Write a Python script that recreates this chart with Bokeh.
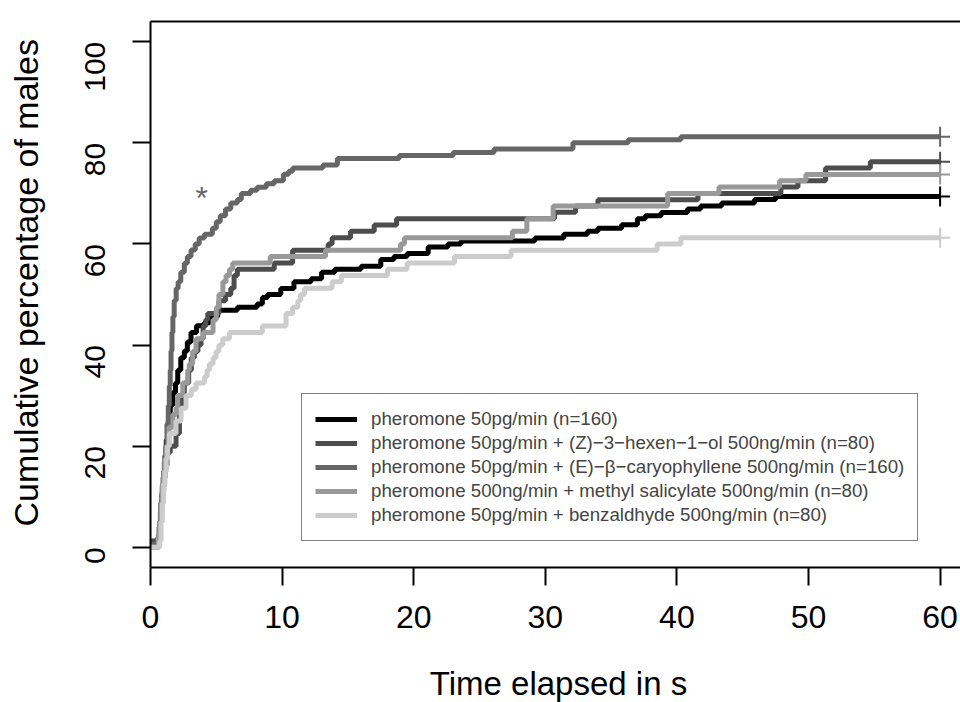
import math
from bokeh.plotting import figure
from bokeh.models import Range1d, LinearAxis, Legend, LegendItem, FixedTicker
from bokeh.layouts import row, column
from bokeh.embed import file_html
from bokeh.resources import INLINE
from bokeh.core.properties import value

# ---------------- data ----------------
series_labels = [
    "pheromone 50pg/min (n=160)",
    "pheromone 50pg/min + (Z)\u22123\u2212hexen\u22121\u2212ol 500ng/min (n=80)",
    "pheromone 50pg/min + (E)\u2212\u03b2\u2212caryophyllene 500ng/min (n=160)",
    "pheromone 500ng/min + methyl salicylate 500ng/min (n=80)",
    "pheromone 50pg/min + benzaldhyde 500ng/min (n=80)",
]

# step change times (s) and cumulative % from that time on
t_phero = [0, 0.6, 0.7, 0.8, 0.9, 1.0, 1.1, 1.2, 1.35, 1.5, 1.7, 1.9, 2.07, 2.3, 2.57, 2.8,
           3.08, 3.5, 4.07, 4.5, 5.1, 6.6, 8.1, 8.5, 8.9, 9.9, 10.9, 12.2, 13.0, 14.0, 16.0,
           17.5, 18.5, 19.5, 21.1, 22.6, 23.6, 29.2, 31.4, 33.2, 34.0, 35.8, 37.0, 37.6,
           38.8, 40.8, 41.8, 43.4, 45.9, 47.5]
v_phero = [0, 2, 5, 8.8, 11.9, 15, 18.1, 21.2, 25, 28.1, 30.6, 32.5, 35, 37.5, 38.8, 40.6,
           42.5, 43.8, 44.4, 45.6, 46.9, 47.5, 48.1, 49.4, 50, 51.2, 52.5, 53.1, 54.4, 55, 55.6,
           56.9, 57.5, 58.1, 59.4, 60, 60.6, 61.2, 61.9, 62.5, 63.1, 63.8, 65, 65.6,
           66.2, 66.9, 67.5, 68.1, 68.8, 69.4]

t_hexenol = [0, 0.6, 0.7, 0.8, 0.9, 1.0, 1.1, 1.25, 1.5, 1.94, 2.2, 2.4, 2.57, 2.9, 3.1, 3.33,
             3.6, 3.84, 4.0, 4.2, 4.35, 5.2, 5.7, 6.1, 6.35, 6.6, 9.4, 10.8, 13.5, 13.8, 15.2,
             17.0, 18.7, 30.7, 32.3, 34.0, 41.6, 47.9, 49.2, 51.3, 54.7]
v_hexenol = [1.25, 2.5, 5, 8.75, 11.25, 13.75, 16.25, 18.75, 20, 22.5, 27.5, 30, 32.5, 35, 37.5, 38.75,
             40, 41.25, 43.75, 45, 46.25, 48.75, 50, 51.25, 53.75, 55, 56.25, 58.75, 60, 61.25, 62.5,
             63.75, 65, 66.25, 67.5, 68.75, 70, 71.25, 72.5, 75, 76.25]

t_caryo = [0, 0.55, 0.65, 0.75, 0.85, 0.95, 1.05, 1.15, 1.25, 1.35, 1.43, 1.5, 1.56, 1.63, 1.7,
           1.8, 1.95, 2.1, 2.3, 2.57, 2.8, 3.08, 3.4, 3.7, 4.1, 4.7, 5.0, 5.3, 5.7, 6.1, 6.6,
           6.9, 7.6, 8.1, 8.8, 9.4, 10.1, 10.5, 10.8, 13.1, 14.2, 18.9, 23.0, 26.1, 32.1,
           36.3, 40.3]
v_caryo = [0.6, 1.9, 4, 7, 10.6, 13.8, 16.9, 20, 24.4, 28, 31.9, 35, 38.8, 42.5, 45.6,
           48.8, 51.2, 52.5, 54.4, 56.2, 57.5, 58.8, 60, 61.2, 61.9, 63.1, 64.4, 65.6, 66.9, 68.1, 68.8,
           70, 70.6, 71.2, 71.9, 72.5, 73.8, 74.4, 75, 75.6, 76.9, 77.5, 78.1, 78.8, 80,
           80.6, 81.2]

t_salicyl = [0, 0.6, 0.7, 0.8, 0.9, 1.0, 1.1, 1.2, 1.4, 1.7, 1.94, 2.07, 2.45, 2.83, 2.95, 3.2,
             3.46, 4.0, 4.75, 5.0, 5.2, 5.5, 5.74, 6.0, 6.25, 9.1, 13.3, 19.0, 19.3, 27.5, 28.6,
             30.6, 39.3, 43.2, 47.8, 49.8]
v_salicyl = [0, 2.5, 5, 8.75, 12.5, 15, 17.5, 20, 23.75, 26.25, 27.5, 30, 32.5, 35, 36.25, 38.75,
             41.25, 42.5, 45, 47.5, 50, 52.5, 53.75, 55, 56.25, 57.5, 58.75, 60, 61.25, 62.5, 65,
             67.5, 70, 71.25, 72.5, 73.75]

t_benzal = [0, 0.7, 0.8, 0.9, 1.0, 1.1, 1.2, 1.3, 1.43, 1.94, 2.32, 2.7, 3.1, 3.46, 4.1, 4.3,
            4.47, 4.75, 4.98, 5.2, 5.49, 6.0, 8.5, 10.3, 10.8, 11.2, 11.4, 11.7, 13.8, 14.5,
            18.0, 19.5, 23.1, 27.4, 38.5, 40.3]
v_benzal = [0, 1.25, 5, 8.75, 12.5, 15, 17.5, 20, 22.5, 25, 27.5, 30, 31.25, 32.5, 33.75, 35,
            36.25, 37.5, 38.75, 40, 41.25, 42.5, 43.75, 46.25, 47.5, 48.75, 50, 51.25, 52.5, 53.75,
            55, 56.25, 57.5, 58.75, 60, 61.25]

t_end = 60
x_ticks = [0, 10, 20, 30, 40, 50, 60]
y_ticks = [0, 20, 40, 60, 80, 100]
star_t, star_v = [3.9], [69.0]
x_title = "Time elapsed in s"
y_title = "Cumulative percentage of males"

# ---------------- style ----------------
colors = ["#000000", "#4D4D4D", "#666666", "#999999", "#CCCCCC"]
FONT = "Liberation Sans"
YT_W = 50      # width of the strip holding the y title
XT_H = 50      # height of the strip holding the x title
MAIN_W = 960 - YT_W
MAIN_H = 702 - XT_H

p = figure(width=MAIN_W, height=MAIN_H, output_backend="svg", toolbar_location=None,
           x_range=Range1d(0, 61.55), y_range=Range1d(-4, 104),
           min_border_left=100, min_border_right=0, min_border_top=21, min_border_bottom=85)
p.background_fill_color = "white"
p.border_fill_color = "white"
p.outline_line_color = None
p.xgrid.grid_line_color = None
p.ygrid.grid_line_color = None

for ax in (p.xaxis[0], p.yaxis[0]):
    ax.axis_line_width = 2
    ax.axis_line_color = "black"
    ax.major_tick_line_width = 2
    ax.major_tick_out = 18
    ax.major_tick_in = 0
    ax.minor_tick_out = 0
    ax.minor_tick_in = 0
    ax.major_label_text_font = FONT
    ax.major_label_text_color = "black"

p.xaxis[0].major_label_text_font_size = "32px"
p.yaxis[0].major_label_text_font_size = "30px"
p.xaxis[0].ticker = FixedTicker(ticks=x_ticks)
p.yaxis[0].ticker = FixedTicker(ticks=y_ticks)
p.xaxis[0].major_label_standoff = 20
p.yaxis[0].major_label_standoff = 37
p.yaxis[0].major_label_orientation = math.pi / 2

top = LinearAxis(ticker=FixedTicker(ticks=[]), axis_line_width=2, axis_line_color="black",
                 major_tick_out=0, major_tick_in=0, minor_tick_out=0, minor_tick_in=0,
                 major_label_text_font_size="0px", major_label_standoff=0)
p.add_layout(top, "above")

series = [(t_phero, v_phero), (t_hexenol, v_hexenol), (t_caryo, v_caryo),
          (t_salicyl, v_salicyl), (t_benzal, v_benzal)]
items = []
for (ts, vs), c, lab in zip(series, colors, series_labels):
    r = p.step(x=list(ts) + [t_end], y=list(vs) + [vs[-1]], mode="after",
               line_color=c, line_width=5)
    p.scatter(x=[t_end], y=[vs[-1]], marker="cross", size=20, line_color=c, line_width=2)
    items.append(LegendItem(label=lab, renderers=[r]))

p.text(x=star_t, y=star_v, text=["*"], text_font=value(FONT), text_font_size="32px",
       text_color="#666666", text_align="center", text_baseline="middle")

legend = Legend(items=items, location=(151, 26), orientation="vertical",
                border_line_color="black", border_line_width=1.5,
                background_fill_color="white", background_fill_alpha=1,
                padding=13, spacing=0, margin=0, glyph_width=42, glyph_height=24,
                label_height=24, label_standoff=14,
                label_text_font=FONT, label_text_font_size="18.7px")
p.add_layout(legend, "center")

# strip with the y-axis title (pixel coordinates)
ytf = figure(width=YT_W, height=MAIN_H, output_backend="svg", toolbar_location=None,
             x_range=Range1d(0, YT_W), y_range=Range1d(0, MAIN_H),
             x_axis_type=None, y_axis_type=None,
             min_border_left=0, min_border_right=0, min_border_top=0, min_border_bottom=0)
ytf.outline_line_color = None
ytf.xgrid.grid_line_color = None
ytf.ygrid.grid_line_color = None
ytf.text(x=[25], y=[MAIN_H - 312], text=[y_title], angle=math.pi / 2,
         text_font=value(FONT), text_font_size="34px", text_color="black",
         text_align="center", text_baseline="middle")

# strip with the x-axis title (pixel coordinates, full width)
xtf = figure(width=960, height=XT_H, output_backend="svg", toolbar_location=None,
             x_range=Range1d(0, 960), y_range=Range1d(0, XT_H),
             x_axis_type=None, y_axis_type=None,
             min_border_left=0, min_border_right=0, min_border_top=0, min_border_bottom=0)
xtf.outline_line_color = None
xtf.xgrid.grid_line_color = None
xtf.ygrid.grid_line_color = None
xtf.text(x=[558], y=[XT_H - (682.5 - MAIN_H)], text=[x_title],
         text_font=value(FONT), text_font_size="33px", text_color="black",
         text_align="center", text_baseline="middle")

layout = column(row(ytf, p, spacing=0), xtf, spacing=0)
open("out.html", "w").write(file_html(layout, INLINE))
